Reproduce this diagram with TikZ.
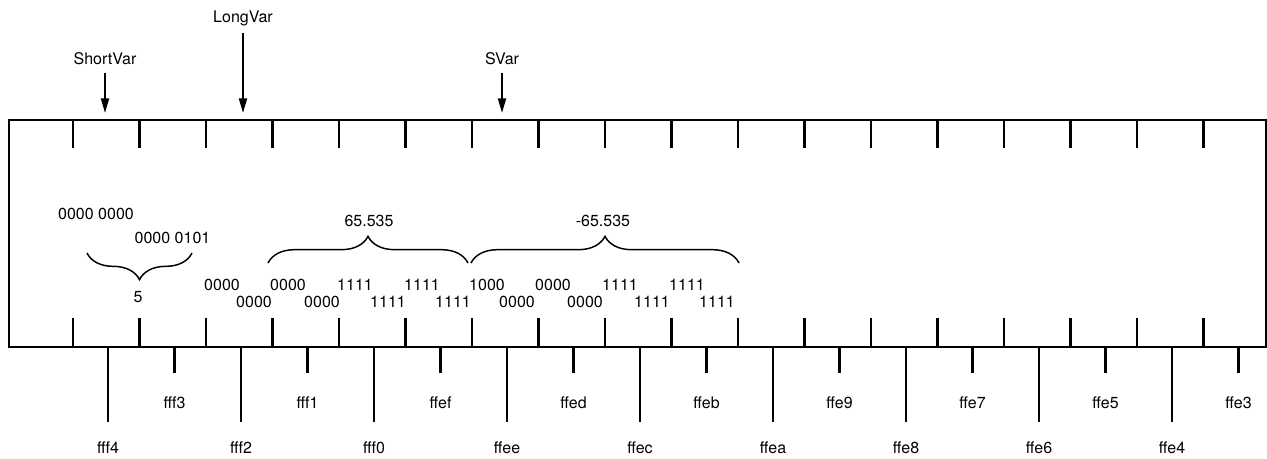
\documentclass[tikz,border=0pt]{standalone}
\usepackage{fontspec}
\setmainfont{TeX Gyre Heros}
\usetikzlibrary{arrows.meta,decorations.pathreplacing}
\begin{document}
\begin{tikzpicture}[x=0.75pt,y=-0.75pt,
  lbl/.style={inner sep=0pt, font=\fontsize{12}{14}\selectfont},
  tickline/.style={line width=1.6pt},
  frame/.style={draw, line width=1.5pt, inner sep=0pt, anchor=north west,
                minimum width=942.75pt, minimum height=170.25pt},
  ptr/.style={line width=1.5pt, -{Triangle[length=11pt,width=6pt]},
              shorten <=5.5pt, shorten >=4.5pt},
  brc/.style={line width=1.1pt, decorate, decoration={brace, amplitude=20pt}}
]
\useasboundingbox (0,0) rectangle (1267,458);
% memory box
\node[frame] (mem) at (8,119) {};
% pointers
\node[lbl] (sv) at (105,59) {ShortVar};
\node[lbl] (lv) at (243,18) {LongVar};
\node[lbl] (svr) at (502,59) {SVar};
\draw[ptr] (sv.south) -- (sv.south |- mem.north);
\draw[ptr] (lv.south) -- (lv.south |- mem.north);
\draw[ptr] (svr.south) -- (svr.south |- mem.north);
% inner ticks
\foreach \k in {0,...,17} {
  \pgfmathsetmacro\tx{73+66.5*\k}
  \draw[tickline] (\tx,119) -- (\tx,148);
  \draw[tickline] (\tx,318) -- (\tx,346);
}
% outer ticks and addresses
\foreach \lab [count=\i from 0] in {fff4,fff2,fff0,ffee,ffec,ffea,ffe8,ffe6,ffe4} {
  \pgfmathsetmacro\bx{108+133*\i}
  \node[lbl] (a\lab) at (\bx,448) {\lab};
  \draw[tickline] (\bx,346) -- (\bx,422);
}
\foreach \lab [count=\i from 0] in {fff3,fff1,ffef,ffed,ffeb,ffe9,ffe7,ffe5,ffe3} {
  \pgfmathsetmacro\bx{174.5+133*\i}
  \node[lbl] (a\lab) at (\bx,403) {\lab};
  \draw[tickline] (\bx,346) -- (\bx,373);
}
% short value
\node[lbl] (s1) at (96,214) {0000 0000};
\node[lbl] (s2) at (172.5,238) {0000 0101};
\node[lbl] (s5) at (138,297) {5};
\draw[brc] (192,253) -- (87,253);
% bit rows
\foreach \b/\x [count=\i] in {0000/222,0000/288,1111/355,1111/422,1000/487,0000/553,1111/620,1111/687} {
  \node[lbl] (r\i) at (\x,285) {\b};
}
\foreach \b/\x [count=\i] in {0000/254,0000/322,1111/388,1111/453,0000/517,0000/585,1111/652,1111/717} {
  \node[lbl] (q\i) at (\x,302) {\b};
}
% long values
\node[lbl] (pv) at (369,221) {65.535};
\node[lbl] (nv) at (603,221) {-65.535};
\draw[brc] (268,263) -- (468,263);
\draw[brc] (471,263) -- (739,263);
\end{tikzpicture}
\end{document}
